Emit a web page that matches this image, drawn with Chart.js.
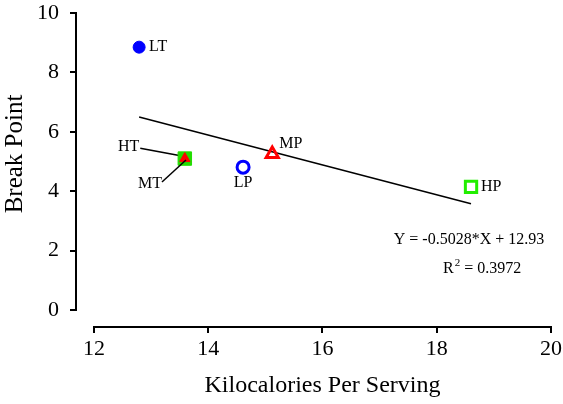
<!DOCTYPE html>
<html lang="en">
<head>
    <meta charset="UTF-8">
    <title>Break Point vs Kilocalories</title>
    <script src="https://cdn.jsdelivr.net/npm/chart.js"></script>
    <style>
        body { margin: 0; background: #fff; }
        #wrap { width: 563px; height: 404px; }
    </style>
</head>
<body>
    <div id="wrap"><canvas id="bpChart" width="563" height="404"></canvas></div>

    <script>
        // Data
        const groupNames = ['LT', 'HT', 'MT', 'LP', 'MP', 'HP'];
        const kcal = [12.79, 13.59, 13.59, 14.61, 15.12, 18.6];
        const breakPoint = [8.85, 5.1, 5.1, 4.81, 5.25, 4.15];

        // Regression line end points
        const fitX = [12.79, 18.6];
        const fitY = [6.5, 3.58];
        const fitText = 'Y = -0.5028*X + 12.93';
        const r2Value = '0.3972';

        // Leader lines for HT and MT labels
        const htLeaderX = [12.81, 13.54];
        const htLeaderY = [5.45, 5.19];
        const mtLeaderX = [13.19, 13.61];
        const mtLeaderY = [4.31, 5.05];

        const xTicks = [12, 14, 16, 18, 20];
        const yTicks = [0, 2, 4, 6, 8, 10];
        const xTitle = 'Kilocalories Per Serving';
        const yTitle = 'Break Point';

        const serif = "'Liberation Serif', 'DejaVu Serif', serif";

        function pt(i) { return [{ x: kcal[i], y: breakPoint[i] }]; }
        function pairs(xs, ys) { return xs.map((x, i) => ({ x: x, y: ys[i] })); }

        // order: lower number is drawn on top
        const styles = {
            LT: { pointStyle: 'circle', radius: 6, bg: '#0000ff', border: '#0000ff', bw: 1, order: 2 },
            HT: { pointStyle: 'rect', radius: 9.5, bg: '#22dd00', border: '#22dd00', bw: 1, order: 3 },
            MT: { pointStyle: 'triangle', radius: 6, bg: '#ff0000', border: '#ff0000', bw: 1, order: 1 },
            LP: { pointStyle: 'circle', radius: 6, bg: 'rgba(0,0,0,0)', border: '#0000ff', bw: 3, order: 2 },
            MP: { pointStyle: 'triangle', radius: 7, bg: 'rgba(0,0,0,0)', border: '#ff0000', bw: 3, order: 2 },
            HP: { pointStyle: 'rect', radius: 8, bg: 'rgba(0,0,0,0)', border: '#22ee00', bw: 3, order: 2 }
        };

        // label offsets in pixels from the marker
        const labelOffsets = {
            LT: [10, 0, 'left'],
            LP: [0, 16, 'center'],
            MP: [7, -10, 'left'],
            HP: [10, 0, 'left']
        };

        const datasets = [
            { type: 'line', order: 4, data: pairs(fitX, fitY), borderColor: '#000', borderWidth: 1.5, pointRadius: 0, fill: false },
            { type: 'line', order: 4, data: pairs(htLeaderX, htLeaderY), borderColor: '#000', borderWidth: 1.5, pointRadius: 0, fill: false },
            { type: 'line', order: 0, data: pairs(mtLeaderX, mtLeaderY), borderColor: '#000', borderWidth: 1.5, pointRadius: 0, fill: false }
        ];
        groupNames.forEach((g, i) => {
            const s = styles[g];
            datasets.push({
                type: 'scatter',
                label: g,
                order: s.order,
                data: pt(i),
                pointStyle: s.pointStyle,
                pointRadius: s.radius,
                pointBackgroundColor: s.bg,
                pointBorderColor: s.border,
                pointBorderWidth: s.bw
            });
        });

        // axis lines, titles and text annotations
        const decorPlugin = {
            id: 'decor',
            afterDraw(chart) {
                const ctx = chart.ctx;
                const xs = chart.scales.x, ys = chart.scales.y;
                const area = chart.chartArea;
                ctx.save();
                ctx.strokeStyle = '#000';
                ctx.lineWidth = 2;
                ctx.beginPath();
                ctx.moveTo(area.left, ys.getPixelForValue(yTicks[0]) + 1);
                ctx.lineTo(area.left, ys.getPixelForValue(yTicks[yTicks.length - 1]) - 1);
                ctx.moveTo(xs.getPixelForValue(xTicks[0]) - 1, area.bottom);
                ctx.lineTo(xs.getPixelForValue(xTicks[xTicks.length - 1]) + 1, area.bottom);
                ctx.stroke();

                ctx.fillStyle = '#000';
                ctx.textBaseline = 'middle';

                // point labels
                ctx.font = '16px ' + serif;
                groupNames.forEach((g, i) => {
                    const off = labelOffsets[g];
                    if (!off) return;
                    ctx.textAlign = off[2];
                    ctx.fillText(g, xs.getPixelForValue(kcal[i]) + off[0], ys.getPixelForValue(breakPoint[i]) + off[1]);
                });
                ctx.textAlign = 'right';
                ctx.fillText('HT', xs.getPixelForValue(htLeaderX[0]) - 1, ys.getPixelForValue(htLeaderY[0]) - 1);
                ctx.textAlign = 'center';
                ctx.fillText('MT', xs.getPixelForValue(mtLeaderX[0]) - 12, ys.getPixelForValue(mtLeaderY[0]) + 2);

                // regression text
                ctx.font = '16px ' + serif;
                ctx.textAlign = 'center';
                ctx.fillText(fitText, 469, 240);
                ctx.textAlign = 'left';
                const rx = 443;
                ctx.fillText('R', rx, 269);
                const rw = ctx.measureText('R').width;
                ctx.font = '11px ' + serif;
                ctx.fillText('2', rx + rw + 1, 263);
                const tw = ctx.measureText('2').width;
                ctx.font = '16px ' + serif;
                ctx.fillText(' = ' + r2Value, rx + rw + 1 + tw, 269);

                // axis titles
                ctx.font = '24px ' + serif;
                ctx.textAlign = 'center';
                ctx.fillText(xTitle, (xs.getPixelForValue(xTicks[0]) + xs.getPixelForValue(xTicks[xTicks.length - 1])) / 2, 386);
                ctx.font = '25px ' + serif;
                ctx.translate(15, 154);
                ctx.rotate(-Math.PI / 2);
                ctx.fillText(yTitle, 0, 0);
                ctx.restore();
            }
        };

        const ctxBp = document.getElementById('bpChart').getContext('2d');
        const bpChart = new Chart(ctxBp, {
            data: { datasets: datasets },
            options: {
                responsive: false,
                animation: false,
                layout: { padding: { left: 0, right: 12, top: 13, bottom: 0 } },
                plugins: { legend: { display: false }, tooltip: { enabled: false } },
                scales: {
                    x: {
                        type: 'linear',
                        min: 11.685,
                        max: 20,
                        afterBuildTicks: s => { s.ticks = xTicks.map(v => ({ value: v })); },
                        afterFit: s => { s.height = 77; s.paddingLeft = 0; s.paddingRight = 0; },
                        border: { display: false },
                        grid: { drawOnChartArea: false, drawTicks: true, tickLength: 6, color: '#000', lineWidth: 2 },
                        ticks: { color: '#000', padding: 3, maxRotation: 0, font: { family: serif, size: 22 } }
                    },
                    y: {
                        type: 'linear',
                        min: -0.57,
                        max: 10,
                        afterBuildTicks: s => { s.ticks = yTicks.map(v => ({ value: v })); },
                        afterFit: s => { s.width = 76; s.paddingTop = 0; s.paddingBottom = 0; },
                        border: { display: false },
                        grid: { drawOnChartArea: false, drawTicks: true, tickLength: 6, color: '#000', lineWidth: 2 },
                        ticks: { color: '#000', padding: 11, font: { family: serif, size: 22 } }
                    }
                }
            },
            plugins: [decorPlugin]
        });
    </script>
</body>
</html>
